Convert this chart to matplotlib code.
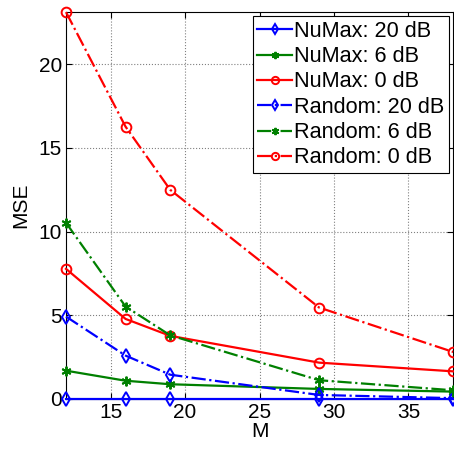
import numpy as np
import matplotlib.pyplot as plt

plt.rcParams['font.family'] = ['Liberation Sans', 'DejaVu Sans']

M = [12, 16, 19, 29, 38]
numax_20 = [0.02, 0.02, 0.02, 0.02, 0.02]
numax_6 = [1.69, 1.09, 0.88, 0.60, 0.44]
numax_0 = [7.77, 4.78, 3.77, 2.17, 1.65]
random_20 = [4.92, 2.59, 1.45, 0.24, 0.05]
random_6 = [10.52, 5.52, 3.80, 1.12, 0.52]
random_0 = [23.1, 16.26, 12.49, 5.46, 2.81]

labels = ['NuMax: 20 dB', 'NuMax: 6 dB', 'NuMax: 0 dB',
          'Random: 20 dB', 'Random: 6 dB', 'Random: 0 dB']
series = [numax_20, numax_6, numax_0, random_20, random_6, random_0]
colors = ['#0000ff', '#008000', '#ff0000'] * 2
asterisk = (6, 2, 0)
markers = ['d', asterisk, 'o'] * 2
styles = ['-'] * 3 + ['-.'] * 3

fig = plt.figure(figsize=(4.54, 4.49), dpi=100)
ax = fig.add_axes([0.1454, 0.1114, 0.8526, 0.8616])

for y, lab, c, mk, ls in zip(series, labels, colors, markers, styles):
    ax.plot(M, y, linestyle=ls, color=c, marker=mk, markersize=7,
            markerfacecolor='none', markeredgecolor=c, markeredgewidth=1.4,
            linewidth=1.6, label=lab, clip_on=False, zorder=3)

ax.set_xlim(12, 38)
ax.set_ylim(0, 23.1)
ax.set_xticks([15, 20, 25, 30, 35])
ax.set_yticks([0, 5, 10, 15, 20])
ax.grid(True, linestyle=':', color='#808080', linewidth=0.8)
ax.tick_params(direction='in', top=True, right=True, labelsize=15, length=4)
ax.tick_params(axis='x', pad=3)
ax.tick_params(axis='y', pad=3)
ax.set_xlabel('M', fontsize=15, labelpad=0)
ax.set_ylabel('MSE', fontsize=15, labelpad=6)
for s in ax.spines.values():
    s.set_linewidth(0.8)

leg = ax.legend(loc='upper right', fontsize=15.6, handlelength=1.6,
                handletextpad=0.1, labelspacing=0.2, borderpad=0.2,
                borderaxespad=0.2, fancybox=False, framealpha=1,
                edgecolor='black', markerscale=0.75)
leg.get_frame().set_linewidth(0.8)

fig.savefig('out.png', dpi=100)
